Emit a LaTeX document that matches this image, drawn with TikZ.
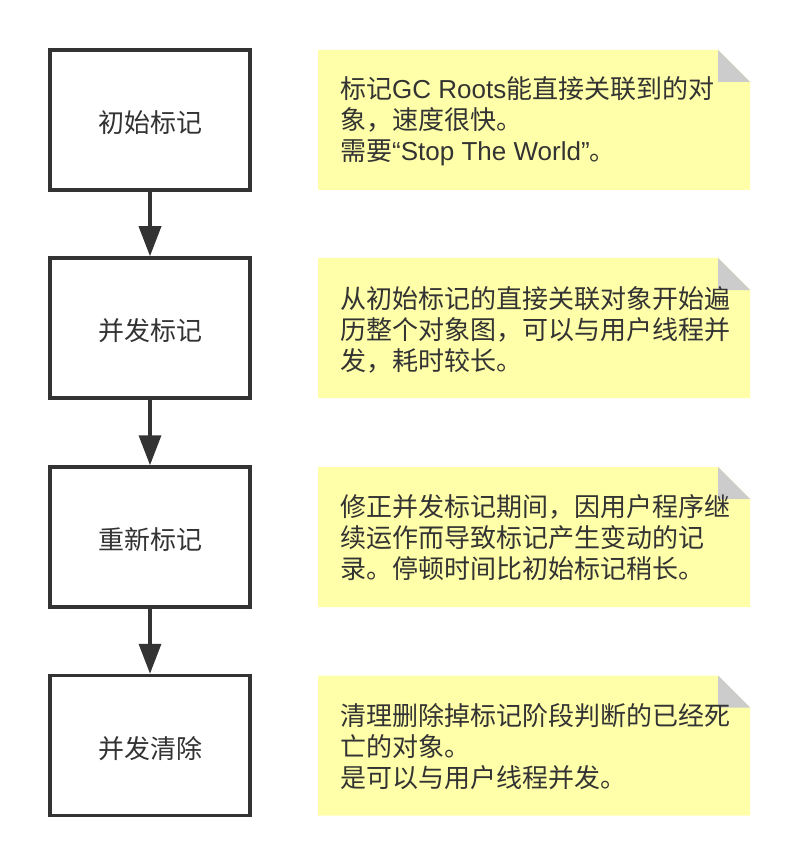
\documentclass[tikz,border=0pt]{standalone}
\usepackage{fontspec}
\setmainfont{Noto Sans CJK SC}
\newfontfamily\lat{Liberation Sans}
\usetikzlibrary{arrows.meta}
\definecolor{ink}{HTML}{333333}
\definecolor{notey}{HTML}{FFFFAA}
\definecolor{foldg}{HTML}{CCCCCC}
\begin{document}
\begin{tikzpicture}[x=1pt,y=-1pt,
  stepbox/.style={draw=ink, line width=3.5pt, fill=white, minimum width=200pt, minimum height=140pt, inner sep=0pt, text=ink, font=\fontsize{26}{31}\selectfont},
  steplabel/.style={inner sep=0pt, text=ink, font=\fontsize{26}{31}\selectfont},
  notebox/.style={minimum width=432pt, minimum height=140pt, inner sep=0pt, outer sep=0pt},
  notetext/.style={anchor=west, align=left, inner sep=0pt, text=ink, font=\fontsize{26}{31}\selectfont},
  flow/.style={draw=ink, line width=3.5pt, -{Triangle[width=22pt,length=30pt]}}]
\useasboundingbox (0,0) rectangle (800,866);
\fill[white] (0,0) rectangle (800,866);
% step boxes
\node[stepbox] (b1) at (150,120) {};
\node[stepbox] (b2) at (150,328) {};
\node[stepbox] (b3) at (150,537) {};
\node[stepbox] (b4) at (150,745.5) {};
\node[steplabel] (l1) at ([yshift=-3pt]b1.center) {初始标记};
\node[steplabel] (l2) at ([yshift=-3pt]b2.center) {并发标记};
\node[steplabel] (l3) at ([yshift=-3pt]b3.center) {重新标记};
\node[steplabel] (l4) at ([yshift=-3pt]b4.center) {并发清除};
% arrows
\draw[flow] (b1.south) -- (b2.north);
\draw[flow] (b2.south) -- (b3.north);
\draw[flow] (b3.south) -- (b4.north);
% notes
\foreach \i/\y in {1/120, 2/328, 3/537, 4/745.5} {
  \node[notebox] (n\i) at (534,\y) {};
  \fill[notey] (n\i.north west) -- ([xshift=-32pt]n\i.north east) -- ([yshift=-32pt]n\i.north east) -- (n\i.south east) -- (n\i.south west) -- cycle;
  \fill[foldg] ([xshift=-32pt]n\i.north east) -- ([xshift=-32pt,yshift=-32pt]n\i.north east) -- ([yshift=-32pt]n\i.north east) -- cycle;
}
\node[notetext] (t1) at (340,121) {标记{\lat GC Roots}能直接关联到的对\\象，速度很快。\\需要{\lat “Stop The World”}。};
\node[notetext] (t2) at (340,330) {从初始标记的直接关联对象开始遍\\历整个对象图，可以与用户线程并\\发，耗时较长。};
\node[notetext] (t3) at (340,538) {修正并发标记期间，因用户程序继\\续运作而导致标记产生变动的记\\录。停顿时间比初始标记稍长。};
\node[notetext] (t4) at (340,746.5) {清理删除掉标记阶段判断的已经死\\亡的对象。\\是可以与用户线程并发。};
\end{tikzpicture}
\end{document}
